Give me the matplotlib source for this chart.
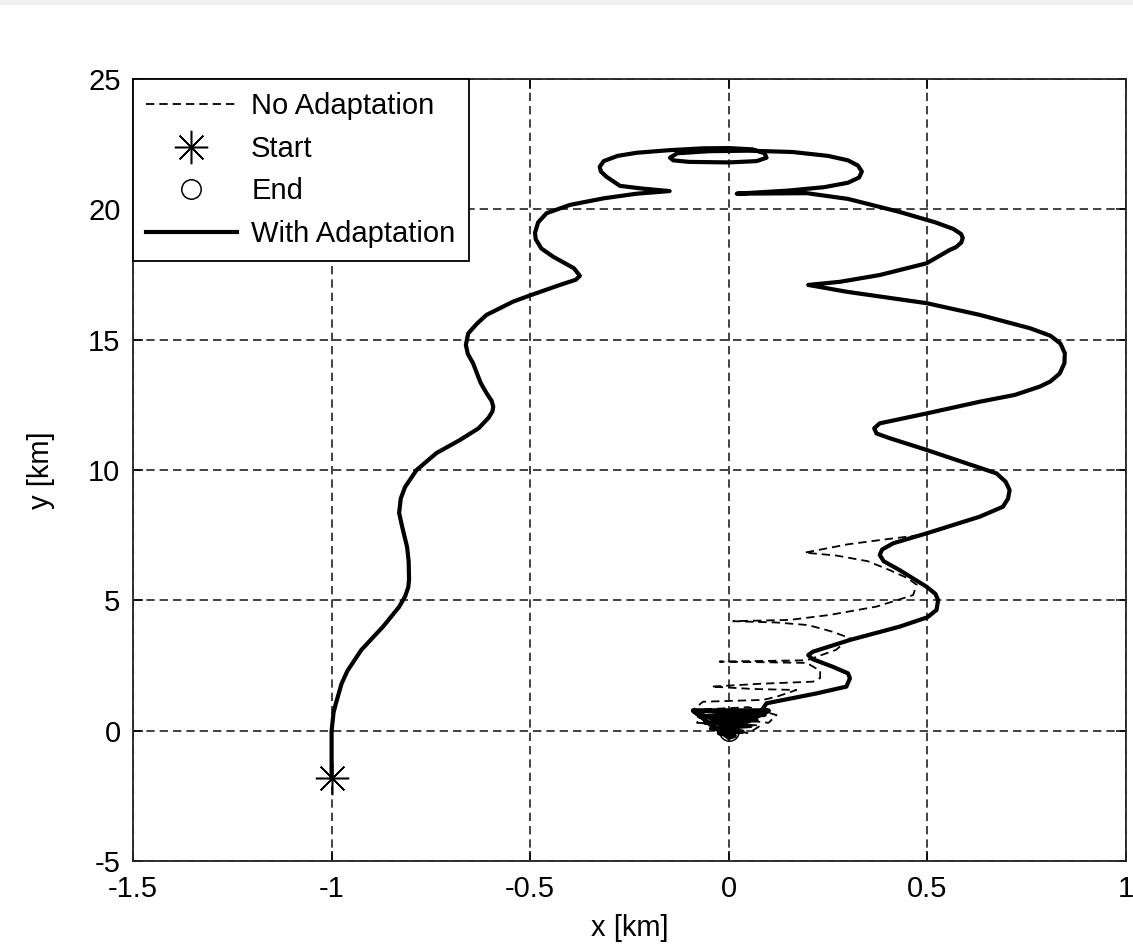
import matplotlib
matplotlib.use("Agg")
import matplotlib.pyplot as plt
from matplotlib.patches import Rectangle
from matplotlib.lines import Line2D

plt.rcParams['font.family'] = ['Liberation Sans', 'DejaVu Sans']
plt.rcParams['lines.scale_dashes'] = False

# ---- data ----
adapt_x = [-1.0, -1.0, -1.0, -0.995, -0.99, -0.975, -0.96, -0.925, -0.87, -0.83, -0.815, -0.807,
           -0.805, -0.806, -0.81, -0.822, -0.83, -0.826, -0.815, -0.786, -0.736, -0.677, -0.63,
           -0.605, -0.595, -0.593, -0.597, -0.61, -0.625, -0.644, -0.657, -0.662, -0.656, -0.635,
           -0.61, -0.543, -0.50, -0.425, -0.385, -0.375, -0.39, -0.442, -0.472, -0.486, -0.488,
           -0.48, -0.459, -0.40, -0.316, -0.232, -0.149, -0.22, -0.274, -0.308, -0.322, -0.325,
           -0.315, -0.28, -0.232, -0.149, -0.065, 0.0, 0.06, 0.09, 0.095, 0.07, 0.0, -0.10, -0.14,
           -0.148, -0.13, -0.05, 0.05, 0.16, 0.25, 0.30, 0.325, 0.335, 0.328, 0.30, 0.24, 0.15,
           0.02, 0.196, 0.30, 0.43, 0.52, 0.565, 0.585, 0.589, 0.585, 0.572, 0.556, 0.498, 0.38,
           0.28, 0.2, 0.296, 0.498, 0.632, 0.758, 0.81, 0.835, 0.846, 0.845, 0.833, 0.81, 0.783,
           0.72, 0.632, 0.498, 0.38, 0.366, 0.372, 0.405, 0.498, 0.598, 0.674, 0.697, 0.707,
           0.703, 0.69, 0.632, 0.498, 0.414, 0.386, 0.38, 0.39, 0.43, 0.498, 0.52, 0.527, 0.523,
           0.50, 0.43, 0.305, 0.212, 0.2, 0.21, 0.262, 0.3, 0.305, 0.296, 0.221, 0.095, 0.078,
           0.1, -0.09, 0.09, -0.075, 0.07, -0.06, 0.055, -0.045, 0.035, -0.025, 0.015, 0.0,
           -0.09, 0.0, 0.1, 0.0]
adapt_y = [-1.81, -1.0, 0.0, 0.7, 1.0, 1.8, 2.3, 3.1, 4.0, 4.75, 5.15, 5.5,
           5.8, 6.5, 7.05, 7.8, 8.35, 8.9, 9.35, 10.0, 10.65, 11.15, 11.6,
           12.0, 12.25, 12.43, 12.65, 12.95, 13.35, 14.1, 14.45, 14.8, 15.24, 15.6,
           15.95, 16.46, 16.7, 17.1, 17.3, 17.45, 17.74, 18.18, 18.5, 18.85, 19.1,
           19.5, 19.85, 20.17, 20.42, 20.6, 20.7, 20.8, 20.9, 21.25, 21.45, 21.63,
           21.85, 22.05, 22.17, 22.27, 22.34, 22.35, 22.3, 22.15, 21.98, 21.85, 21.8, 21.82, 21.88,
           21.98, 22.15, 22.23, 22.25, 22.2, 22.05, 21.88, 21.68, 21.45, 21.22, 21.02, 20.85, 20.72,
           20.6, 20.62, 20.4, 19.9, 19.5, 19.25, 19.05, 18.9, 18.72, 18.55, 18.44, 17.93, 17.48,
           17.22, 17.1, 16.84, 16.4, 15.95, 15.44, 15.15, 14.85, 14.48, 14.1, 13.7, 13.4, 13.2,
           12.88, 12.62, 12.17, 11.79, 11.6, 11.4, 11.22, 10.77, 10.26, 9.87, 9.55, 9.23,
           8.9, 8.59, 8.21, 7.57, 7.19, 6.95, 6.74, 6.5, 6.16, 5.52, 5.25, 5.01, 4.63,
           4.35, 3.99, 3.48, 3.03, 2.9, 2.75, 2.45, 2.2, 2.01, 1.69, 1.43, 1.05, 0.67,
           0.78, 0.78, 0.6, 0.55, 0.4, 0.3, 0.18, 0.08, -0.04, -0.1, -0.2, -0.28,
           0.75, 0.2, 0.75, 0.0]

noadapt_x = [0.48, 0.40, 0.30, 0.191, 0.27, 0.35, 0.405, 0.45, 0.473, 0.464, 0.372, 0.254,
             0.154, 0.011, 0.12, 0.2, 0.26, 0.305, 0.27, 0.196, -0.023, 0.196, 0.23, 0.23,
             0.212, 0.08, -0.044, 0.06, 0.17, 0.12, 0.086, -0.065, -0.09, 0.05, 0.12, 0.10,
             -0.07, -0.08, 0.08, 0.05, -0.05, 0.0]
noadapt_y = [7.5, 7.35, 7.15, 6.83, 6.72, 6.5, 6.16, 5.85, 5.6, 5.2, 4.76, 4.44,
             4.25, 4.2, 4.15, 4.05, 3.8, 3.55, 3.1, 2.7, 2.65, 2.6, 2.3, 2.02,
             1.88, 1.8, 1.69, 1.6, 1.56, 1.3, 1.18, 1.11, 0.8, 0.9, 0.6, 0.3,
             0.6, 0.3, 0.2, -0.1, 0.2, 0.0]

start_pt = (-1.0, -1.81)
end_pt = (0.0, 0.0)

xticks = [-1.5, -1, -0.5, 0, 0.5, 1]
xticklabels = ['-1.5', '-1', '-0.5', '0', '0.5', '1']
yticks = [-5, 0, 5, 10, 15, 20, 25]
yticklabels = ['-5', '0', '5', '10', '15', '20', '25']

FS = 21

# ---- figure ----
fig = plt.figure(figsize=(11.33, 9.5), dpi=100)
fig.patch.set_facecolor('white')
fig.add_artist(Rectangle((0, 1 - 5 / 950), 1, 5 / 950, transform=fig.transFigure,
                         facecolor='#f0f0f0', edgecolor='none'))
ax = fig.add_axes([133 / 1133, 89 / 950, 993 / 1133, 782 / 950])

ax.plot(noadapt_x, noadapt_y, color='black', lw=1.3, linestyle=(0, (6, 3.6)), zorder=3)
ax.plot(end_pt[0], end_pt[1], linestyle='none', marker='o', markersize=14,
        markerfacecolor='none', markeredgecolor='black', markeredgewidth=1.1, zorder=3.5)
ax.plot(adapt_x, adapt_y, color='black', lw=3.0, solid_joinstyle='round', zorder=4)
ax.plot(start_pt[0], start_pt[1], linestyle='none', marker=(8, 2, 0), markersize=24,
        markeredgecolor='black', markeredgewidth=1.1, zorder=5)

ax.set_xlim(-1.5, 1.0)
ax.set_ylim(-5, 25)
ax.set_xticks(xticks)
ax.set_xticklabels(xticklabels)
ax.set_yticks(yticks)
ax.set_yticklabels(yticklabels)
ax.tick_params(direction='in', length=7, width=1.1, labelsize=FS, colors='black',
               top=True, right=True)
ax.tick_params(axis='x', pad=10)
ax.tick_params(axis='y', pad=9)
ax.grid(True, color='#222222', linestyle=(0, (6, 3.6)), linewidth=1.2)
for s in ax.spines.values():
    s.set_linewidth(1.3)
    s.set_color('#222222')

ax.set_xlabel('x [km]', fontsize=FS, labelpad=8)
ax.set_ylabel('y [km]', fontsize=FS, labelpad=24)

handles = [
    Line2D([], [], color='black', lw=1.3, linestyle=(0, (6, 3.6))),
    Line2D([], [], linestyle='none', marker=(8, 2, 0), markersize=24, color='black',
           markeredgewidth=1.1),
    Line2D([], [], linestyle='none', marker='o', markersize=14, markerfacecolor='none',
           markeredgecolor='black', markeredgewidth=1.1),
    Line2D([], [], color='black', lw=3.0),
]
labels = ['No Adaptation', 'Start', 'End', 'With Adaptation']
leg = ax.legend(handles, labels, loc='upper left', fontsize=FS, frameon=True, fancybox=False,
                edgecolor='black', framealpha=1, borderaxespad=0, handlelength=3.1,
                handletextpad=0.5, labelspacing=0.5, borderpad=0.45)
leg.get_frame().set_linewidth(1.3)
leg.set_zorder(10)

fig.savefig('out.png', dpi=100)
